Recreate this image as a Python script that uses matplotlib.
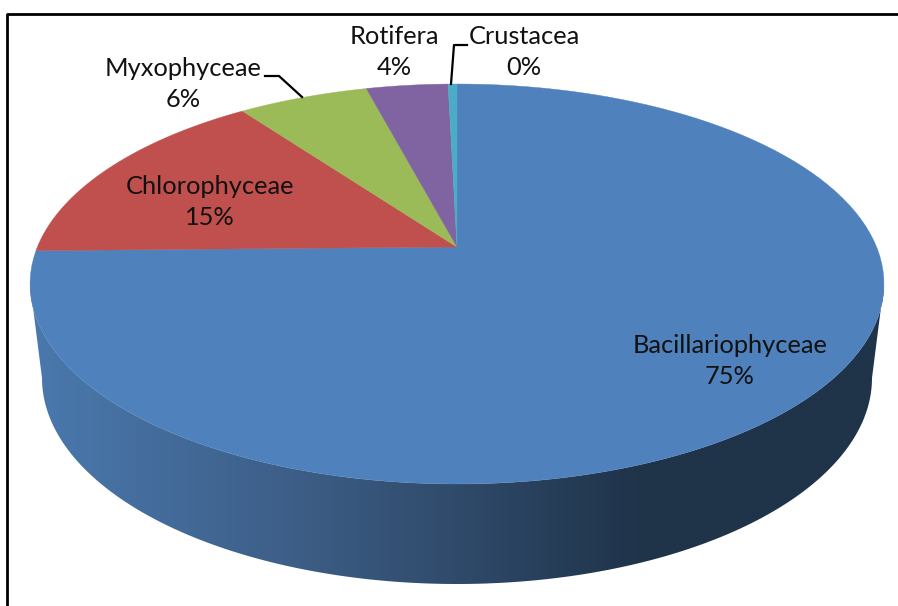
import numpy as np
import matplotlib
matplotlib.use("Agg")
import matplotlib.pyplot as plt
from matplotlib.colors import LinearSegmentedColormap
from matplotlib.patches import Polygon

names = ["Bacillariophyceae", "Chlorophyceae", "Myxophyceae", "Rotifera", "Crustacea"]
shares = [74.7, 15.3, 5.9, 3.7, 0.4]
shown = ["75%", "15%", "6%", "4%", "0%"]
colors = ["#4F81BD", "#C0504D", "#9BBB59", "#8064A2", "#4BACC6"]

plt.rcParams['font.family'] = ['Lato', 'DejaVu Sans']


# the pie is a tilted disc: unit circle to pixels through a perspective map
def project(u, v):
    w = 1 + 0.185 * v
    return 457 + 419.6 * u / w, (247 - 147.46 * v) / w


fig = plt.figure(figsize=(8.98, 6.06), dpi=100)
ax = fig.add_axes([0, 0, 1, 1])
ax.set_xlim(0, 898)
ax.set_ylim(606, 0)
ax.axis("off")

# side wall with left to right shading, starts at the widest point of the rim
t = np.linspace(np.arcsin(0.185), np.pi - np.arcsin(0.185), 200)
top_x, top_y = project(np.cos(t), -np.sin(t))
t2 = np.linspace(0, np.pi, 200)
low_x = 457 + 415 * np.cos(t2)
low_y = 378 + 206 * np.sin(t2)
wall = Polygon(np.column_stack([np.r_[top_x, low_x[::-1]], np.r_[top_y, low_y[::-1]]]),
               closed=True, facecolor="none", edgecolor="none")
ax.add_patch(wall)
shade = LinearSegmentedColormap.from_list("wall", [(0, "#4A79AE"), (0.33, "#3C5C84"), (0.72, "#1F3349"), (1, "#1F3349")])
img = ax.imshow(np.linspace(0, 1, 400).reshape(1, -1), cmap=shade, extent=(30, 884, 606, 0), aspect="auto")
img.set_clip_path(wall)

# top face, clockwise from 12 o'clock
start = 0.0
for share, color in zip(shares, colors):
    a = np.radians(np.linspace(start, start + share, 120) * 3.6)
    x, y = project(np.sin(a), np.cos(a))
    x0, y0 = project(0, 0)
    ax.fill(np.r_[x0, x], np.r_[y0, y], color=color, lw=0.3)
    start += share

label_xy = [(730, 361), (210, 202), (183, 84), (394, 52), (524, 52)]
for name, pct, (lx, ly) in zip(names, shown, label_xy):
    ax.text(lx, ly, name + "\n" + pct, ha="center", va="center", fontsize=18.3,
            color="#111111", linespacing=1.42)

# leader lines
ax.plot([265, 279, 302], [76, 76, 97], color="black", lw=1.6)
ax.plot([467, 454, 451], [45, 45, 84], color="black", lw=1.6)

# outer frame, open on the right
ax.plot([6.7, 6.7, 898], [606, 14, 14], color="black", lw=2)

fig.savefig("out.png", dpi=100)
